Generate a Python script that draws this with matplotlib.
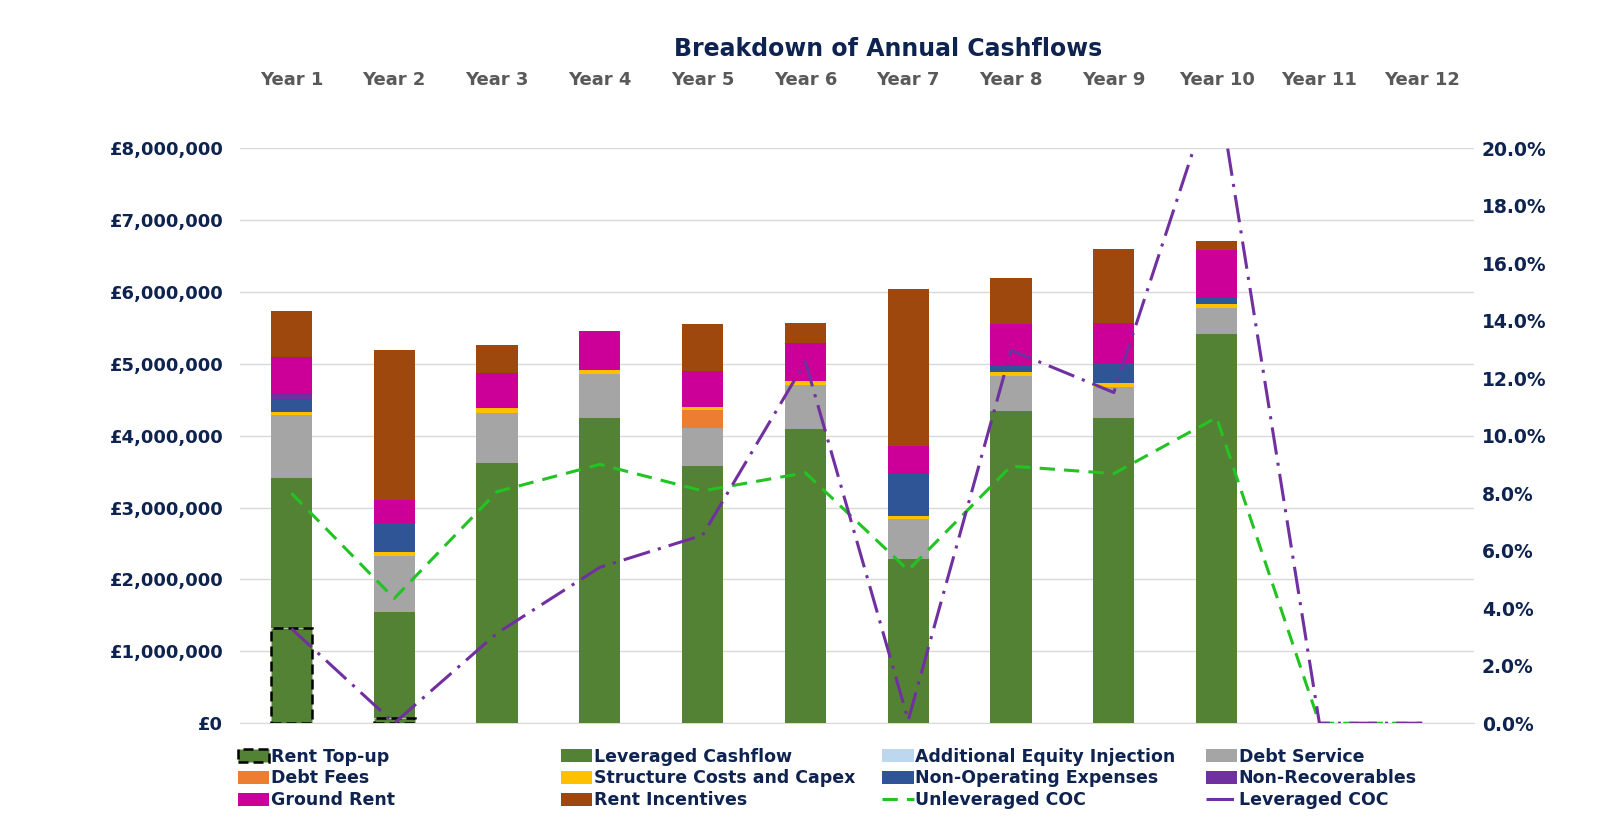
import matplotlib
matplotlib.use('Agg')
import matplotlib.pyplot as plt
import numpy as np
from matplotlib.ticker import FuncFormatter

years = ['Year 1', 'Year 2', 'Year 3', 'Year 4', 'Year 5', 'Year 6',
         'Year 7', 'Year 8', 'Year 9', 'Year 10', 'Year 11', 'Year 12']

# stacked series, in £m, bottom to top
rent_topup = [1.32, 0.07, 0, 0, 0, 0, 0, 0, 0, 0, 0, 0]
lev_cashflow = [2.09, 1.48, 3.62, 4.24, 3.58, 4.09, 2.28, 4.34, 4.25, 5.41, 0, 0]
equity_injection = [0, 0, 0, 0, 0, 0, 0, 0, 0, 0, 0, 0]
debt_service = [0.88, 0.78, 0.70, 0.62, 0.53, 0.62, 0.56, 0.49, 0.43, 0.37, 0, 0]
debt_fees = [0, 0, 0, 0, 0.25, 0, 0, 0, 0, 0, 0, 0]
structure_capex = [0.04, 0.05, 0.06, 0.05, 0.04, 0.05, 0.04, 0.05, 0.05, 0.05, 0, 0]
non_operating = [0.17, 0.40, 0, 0, 0, 0, 0.58, 0.09, 0.27, 0.08, 0, 0]
non_recoverables = [0.08, 0, 0, 0, 0, 0, 0, 0, 0, 0, 0, 0]
ground_rent = [0.51, 0.33, 0.49, 0.55, 0.50, 0.53, 0.40, 0.58, 0.57, 0.67, 0, 0]
rent_incentives = [0.64, 2.08, 0.39, 0, 0.65, 0.28, 2.18, 0.64, 1.03, 0.13, 0, 0]

# cash on cash, %
unlev_coc = [8.0, 4.34, 8.05, 9.0, 8.08, 8.71, 5.32, 8.94, 8.68, 10.63, 0, 0]
lev_coc = [3.29, 0.0, 3.13, 5.42, 6.54, 12.57, 0.1, 12.97, 11.5, 22.4, 0, 0]

navy = '#0f2350'
plt.rcParams['font.family'] = ['DejaVu Sans']
plt.rcParams['font.weight'] = 'bold'

fig = plt.figure(figsize=(16, 8.39), dpi=100)
ax = fig.add_axes([0.15, 0.138, 0.771, 0.6855])
x = np.arange(len(years))
w = 0.4

stack = [
    ('Leveraged Cashflow', lev_cashflow, '#548235'),
    ('Additional Equity Injection', equity_injection, '#bdd7ee'),
    ('Debt Service', debt_service, '#a5a5a5'),
    ('Debt Fees', debt_fees, '#ed7d31'),
    ('Structure Costs and Capex', structure_capex, '#ffc000'),
    ('Non-Operating Expenses', non_operating, '#2f5597'),
    ('Non-Recoverables', non_recoverables, '#7030a0'),
    ('Ground Rent', ground_rent, '#cc0099'),
    ('Rent Incentives', rent_incentives, '#9e480e'),
]

handles = {}
topup = np.array(rent_topup) * 1e6
has = topup > 0
handles['Rent Top-up'] = ax.bar(x[has], topup[has], w, color='#548235',
                                edgecolor='black', linestyle=(0, (4, 2)),
                                linewidth=1.8, zorder=4)
bottom = topup.copy()
for name, vals, col in stack:
    v = np.array(vals) * 1e6
    handles[name] = ax.bar(x, v, w, bottom=bottom, color=col, zorder=3)
    bottom += v

ax.set_ylim(0, 8e6)
ax.set_xlim(-0.5, 11.5)
ax.set_yticks(np.arange(0, 8.01e6, 1e6))
ax.yaxis.set_major_formatter(FuncFormatter(lambda v, p: '£{:,.0f}'.format(v)))
ax.grid(axis='y', color='#d9d9d9', linewidth=1, zorder=0)
ax.set_axisbelow(True)
for s in ['top', 'right', 'left']:
    ax.spines[s].set_visible(False)
ax.spines['bottom'].set_color('#d9d9d9')
ax.tick_params(axis='y', length=0, labelsize=13, labelcolor=navy, pad=12)
ax.set_xticks(x)
ax.set_xticklabels(years)
ax.xaxis.tick_top()
ax.tick_params(axis='x', length=0, labelsize=13, labelcolor='#595959', pad=42.5)

ax2 = ax.twinx()
ax2.set_ylim(0, 20)
ax2.set_yticks(np.arange(0, 20.01, 2))
ax2.yaxis.set_major_formatter(FuncFormatter(lambda v, p: '{:.1f}%'.format(v)))
for s in ax2.spines.values():
    s.set_visible(False)
ax2.tick_params(axis='y', length=0, labelsize=13.5, labelcolor=navy, pad=6)
handles['Unleveraged COC'], = ax2.plot(x, unlev_coc, color='#22c322', lw=2.2,
                                       linestyle=(0, (5, 3)), zorder=5)
handles['Leveraged COC'], = ax2.plot(x, lev_coc, color='#7030a0', lw=2.2,
                                     linestyle=(0, (9, 2.7, 1, 2.7)), zorder=5)

fig.text(0.555, 0.942, 'Breakdown of Annual Cashflows', ha='center', va='center',
         fontsize=17, color=navy, fontweight='bold')

cols = [['Rent Top-up', 'Debt Fees', 'Ground Rent'],
        ['Leveraged Cashflow', 'Structure Costs and Capex', 'Rent Incentives'],
        ['Additional Equity Injection', 'Non-Operating Expenses', 'Unleveraged COC'],
        ['Debt Service', 'Non-Recoverables', 'Leveraged COC']]
col_x = [0.1485, 0.3505, 0.5515, 0.7535]
for cx, names in zip(col_x, cols):
    leg = fig.legend([handles[n] for n in names], names, loc='upper left',
                     bbox_to_anchor=(cx, 0.109), ncol=1, frameon=False,
                     fontsize=12.5, handlelength=1.8, handleheight=0.8,
                     handletextpad=0.1, labelspacing=0.22, borderaxespad=0,
                     borderpad=0)
    for t in leg.get_texts():
        t.set_color(navy)

fig.savefig('out.png', dpi=100)
